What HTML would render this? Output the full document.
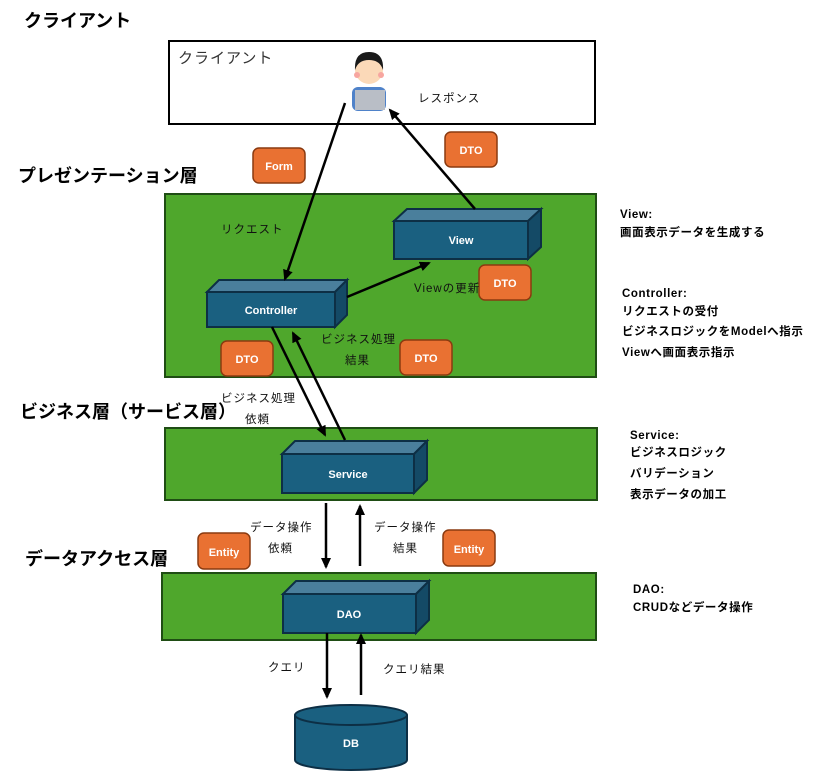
<!DOCTYPE html>
<html><head><meta charset="utf-8"><style>
body{margin:0;background:#fff;}
svg{display:block;font-family:"Liberation Sans","Noto Sans CJK JP",sans-serif;}
.h{font-size:18px;font-weight:bold;fill:#000;}
.l{font-size:11.5px;fill:#111;letter-spacing:1px;}
.r{font-size:11.5px;font-weight:bold;fill:#000;letter-spacing:0.6px;}
.w{font-size:11px;fill:#fff;text-anchor:middle;font-weight:bold;}
</style></head><body>
<svg width="822" height="773" viewBox="0 0 822 773">
<defs><marker id="a" markerWidth="11" markerHeight="10" refX="9" refY="5" orient="auto" markerUnits="userSpaceOnUse"><path d="M0,0 L11,5 L0,10 Z" fill="#000"/></marker></defs>
<text class="h" x="24" y="27">クライアント</text>
<text class="h" x="18" y="182">プレゼンテーション層</text>
<text class="h" x="20" y="418">ビジネス層（サービス層）</text>
<text class="h" x="25" y="565">データアクセス層</text>

<rect x="169" y="41" width="426" height="83" fill="#fff" stroke="#000" stroke-width="2"/>
<text x="178" y="63" font-size="15" fill="#333" letter-spacing="1">クライアント</text>
<g>
<circle cx="369" cy="70" r="14" fill="#fbd9b8"/>
<path d="M355,70 Q354,52 369,52 Q384,52 383,70 Q380,60 369,60 Q358,60 355,70Z" fill="#1a1a1a"/>
<circle cx="357" cy="75" r="3" fill="#f7a6a0"/><circle cx="381" cy="75" r="3" fill="#f7a6a0"/>
<rect x="352" y="87" width="34" height="24" rx="6" fill="#4f82c9"/>
<rect x="355" y="90" width="30" height="20" fill="#b9bec6"/>
</g>
<text class="l" x="418" y="102">レスポンス</text>

<rect x="165" y="194" width="431" height="183" fill="#4fa72c" stroke="#1f4d14" stroke-width="2"/>
<rect x="165" y="428" width="432" height="72" fill="#4fa72c" stroke="#1f4d14" stroke-width="2"/>
<rect x="162" y="573" width="434" height="67" fill="#4fa72c" stroke="#1f4d14" stroke-width="2"/>

<g stroke="#0d2f45" stroke-width="2">
<path d="M207,292 L219,280 L347,280 L335,292Z" fill="#4a7f9c"/><path d="M335,292 L347,280 L347,315 L335,327Z" fill="#144a66"/><rect x="207" y="292" width="128" height="35" fill="#1a6080"/>
<path d="M394,221 L407,209 L541,209 L528,221Z" fill="#4a7f9c"/><path d="M528,221 L541,209 L541,247 L528,259Z" fill="#144a66"/><rect x="394" y="221" width="134" height="38" fill="#1a6080"/>
<path d="M282,454 L295,441 L427,441 L414,454Z" fill="#4a7f9c"/><path d="M414,454 L427,441 L427,480 L414,493Z" fill="#144a66"/><rect x="282" y="454" width="132" height="39" fill="#1a6080"/>
<path d="M283,594 L296,581 L429,581 L416,594Z" fill="#4a7f9c"/><path d="M416,594 L429,581 L429,620 L416,633Z" fill="#144a66"/><rect x="283" y="594" width="133" height="39" fill="#1a6080"/>
<path d="M295,715 L295,760 A56,10 0 0 0 407,760 L407,715" fill="#1a6080"/>
<ellipse cx="351" cy="715" rx="56" ry="10" fill="#1a6080"/>
</g>
<text class="w" x="271" y="314">Controller</text>
<text class="w" x="461" y="244">View</text>
<text class="w" x="348" y="478">Service</text>
<text class="w" x="349" y="618">DAO</text>
<text class="w" x="351" y="747">DB</text>

<g fill="#e97132" stroke="#8a3a10" stroke-width="1.5">
<rect x="253" y="148" width="52" height="35" rx="6"/>
<rect x="445" y="132" width="52" height="35" rx="6"/>
<rect x="479" y="265" width="52" height="35" rx="6"/>
<rect x="221" y="341" width="52" height="35" rx="6"/>
<rect x="400" y="340" width="52" height="35" rx="6"/>
<rect x="198" y="533" width="52" height="36" rx="6"/>
<rect x="443" y="530" width="52" height="36" rx="6"/>
</g>
<text class="w" x="279" y="170">Form</text>
<text class="w" x="471" y="154">DTO</text>
<text class="w" x="505" y="287">DTO</text>
<text class="w" x="247" y="363">DTO</text>
<text class="w" x="426" y="362">DTO</text>
<text class="w" x="224" y="556">Entity</text>
<text class="w" x="469" y="553">Entity</text>

<g stroke="#000" stroke-width="2.5" marker-end="url(#a)">
<line x1="345" y1="103" x2="285" y2="279"/>
<line x1="475" y1="209" x2="390" y2="110"/>
<line x1="347" y1="297" x2="429" y2="263"/>
<line x1="272" y1="327" x2="325" y2="435"/>
<line x1="345" y1="440" x2="293" y2="333"/>
<line x1="326" y1="503" x2="326" y2="567"/>
<line x1="360" y1="566" x2="360" y2="506"/>
<line x1="327" y1="633" x2="327" y2="697"/>
<line x1="361" y1="695" x2="361" y2="635"/>
</g>

<text class="l" x="221" y="233">リクエスト</text>
<text class="l" x="414" y="292" letter-spacing="0.3">Viewの更新</text>
<text class="l" x="321" y="343">ビジネス処理</text>
<text class="l" x="345" y="364">結果</text>
<text class="l" x="221" y="402">ビジネス処理</text>
<text class="l" x="245" y="423">依頼</text>
<text class="l" x="250" y="531">データ操作</text>
<text class="l" x="268" y="552">依頼</text>
<text class="l" x="374" y="531">データ操作</text>
<text class="l" x="393" y="552">結果</text>
<text class="l" x="268" y="671">クエリ</text>
<text class="l" x="383" y="673">クエリ結果</text>

<text class="r" x="620" y="218" letter-spacing="0">View:</text>
<text class="r" x="620" y="236">画面表示データを生成する</text>
<text class="r" x="622" y="297" letter-spacing="0">Controller:</text>
<text class="r" x="622" y="315">リクエストの受付</text>
<text class="r" x="622" y="335">ビジネスロジックをModelへ指示</text>
<text class="r" x="622" y="356">Viewへ画面表示指示</text>
<text class="r" x="630" y="439" letter-spacing="0">Service:</text>
<text class="r" x="630" y="456">ビジネスロジック</text>
<text class="r" x="630" y="477">バリデーション</text>
<text class="r" x="630" y="498">表示データの加工</text>
<text class="r" x="633" y="593" letter-spacing="0">DAO:</text>
<text class="r" x="633" y="611">CRUDなどデータ操作</text>
</svg>
</body></html>
